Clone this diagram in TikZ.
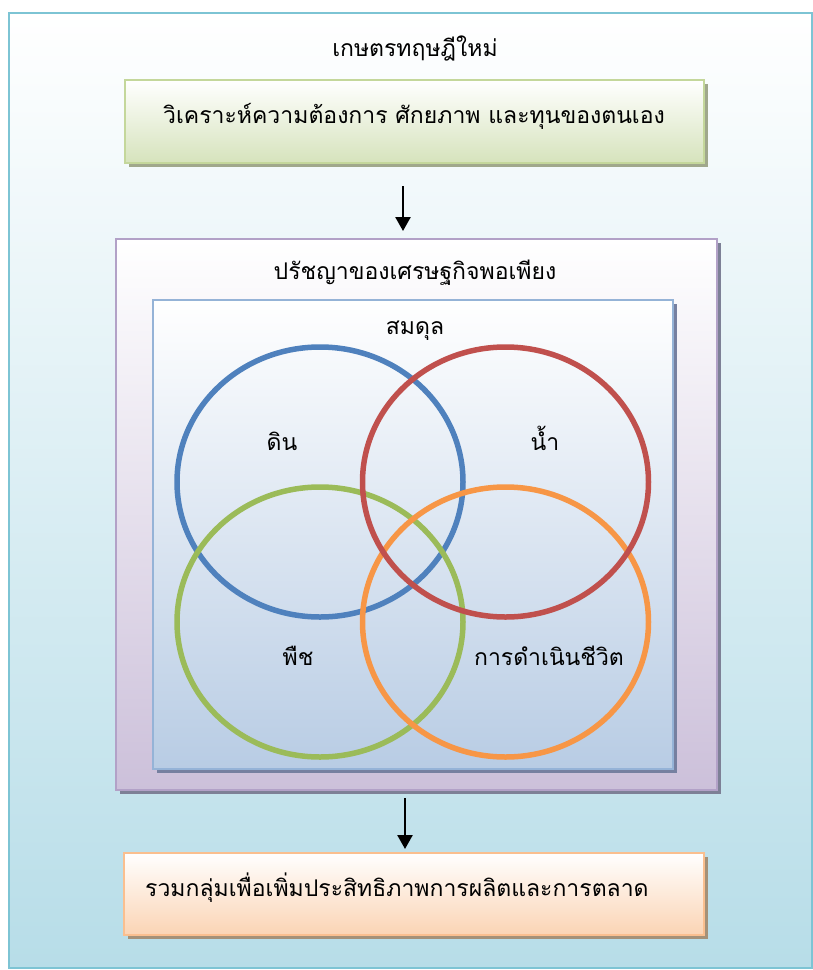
\documentclass[tikz,border=0pt]{standalone}
\usepackage{fontspec}
\newfontfamily\thaifont[Script=Thai]{Loma}
\usetikzlibrary{positioning}
\usetikzlibrary{shapes}
\usetikzlibrary{shadows}
\usetikzlibrary{arrows.meta}
\usepackage{xcolor}
\definecolor{framerim}  {RGB} {125,196,212}
\definecolor{framebot}  {RGB} {183,221,232}
\definecolor{greenrim}  {RGB} {196,215,155}
\definecolor{greenbot}  {RGB} {214,227,188}
\definecolor{greenshad} {RGB} {160,168,140}
\definecolor{lilacrim}  {RGB} {178,161,199}
\definecolor{lilacbot}  {RGB} {204,192,218}
\definecolor{lilacshad} {RGB} {125,128,150}
\definecolor{bluerim}   {RGB} {149,179,215}
\definecolor{bluebot}   {RGB} {184,204,228}
\definecolor{blueshad}  {RGB} {118,128,160}
\definecolor{peachrim}  {RGB} {250,191,143}
\definecolor{peachbot}  {RGB} {251,212,180}
\definecolor{peachshad} {RGB} {165,145,120}
\definecolor{ringblue}  {RGB} {79,129,189}
\definecolor{ringred}   {RGB} {192,80,77}
\definecolor{ringgreen} {RGB} {155,187,89}
\definecolor{ringorange}{RGB} {247,150,70}
\tikzstyle{panel} = [rectangle,line width=2pt,inner sep=0pt,top color=white]
\tikzstyle{ring} = [ellipse,line width=5.5pt,minimum width=286pt,minimum height=270pt,inner sep=0pt]
\tikzstyle{T} = [font=\thaifont\fontsize{23}{27}\selectfont,inner sep=0pt]
\tikzset{shad/.style={drop shadow={shadow xshift=4pt,shadow yshift=-4pt,fill=#1,opacity=1}}}
\tikzset{>={Triangle[length=14pt,width=15pt]}}

\begin{document}
\begin{tikzpicture}[x=1pt,y=-1pt]
  \useasboundingbox (0,0) rectangle (813,970);
  \node [panel,draw=framerim,bottom color=framebot,minimum width=803pt,minimum height=955pt] (frame) at (410.5,490.5) {};
  \node [T] (title) at (415,48) {เกษตรทฤษฎีใหม่};

  \node [panel,draw=greenrim,bottom color=greenbot,shad=greenshad,minimum width=579pt,minimum height=83pt] (need) at (414.5,121.5) {};
  \node [T] (needtxt) at (414,116) {วิเคราะห์ความต้องการ ศักยภาพ และทุนของตนเอง};

  \node [panel,draw=lilacrim,bottom color=lilacbot,shad=lilacshad,minimum width=601pt,minimum height=551pt,below=74pt of need,xshift=2pt] (philo) {};
  \node [T] (philotxt) at (415,273) {ปรัชญาของเศรษฐกิจพอเพียง};

  \node [panel,draw=bluerim,bottom color=bluebot,shad=blueshad,minimum width=520pt,minimum height=469pt] (bal) at (413,534.5) {};
  \node [T] (baltxt) at (415,331) {สมดุล};

  \node [ring,draw=ringblue] (soil) at (320,482) {};
  \node [ring,draw=ringgreen] (plant) at (320,622) {};
  \node [ring,draw=ringorange] (life) at (505.5,622) {};
  \node [ring,draw=ringred] (water) at (505.5,482) {};

  \node [T] (soiltxt) at (282,441) {ดิน};
  \node [T] (watertxt) at (545,438) {น้ำ};
  \node [T] (planttxt) at (298,656) {พืช};
  \node [T] (lifetxt) at (549,656) {การดำเนินชีวิต};

  \node [panel,draw=peachrim,bottom color=peachbot,shad=peachshad,minimum width=580pt,minimum height=82pt] (group) at (414,894) {};
  \node [T,anchor=west] (grouptxt) at (145,888) {รวมกลุ่มเพื่อเพิ่มประสิทธิภาพการผลิตและการตลาด};

  \draw [->,line width=2.5pt,shorten <=22pt,shorten >=7pt] (need.south -| 403,0) -- (philo.north -| 403,0);
  \draw [->,line width=2.5pt,shorten <=7pt,shorten >=3pt] (philo.south -| 405,0) -- (group.north -| 405,0);
\end{tikzpicture}
\end{document}
